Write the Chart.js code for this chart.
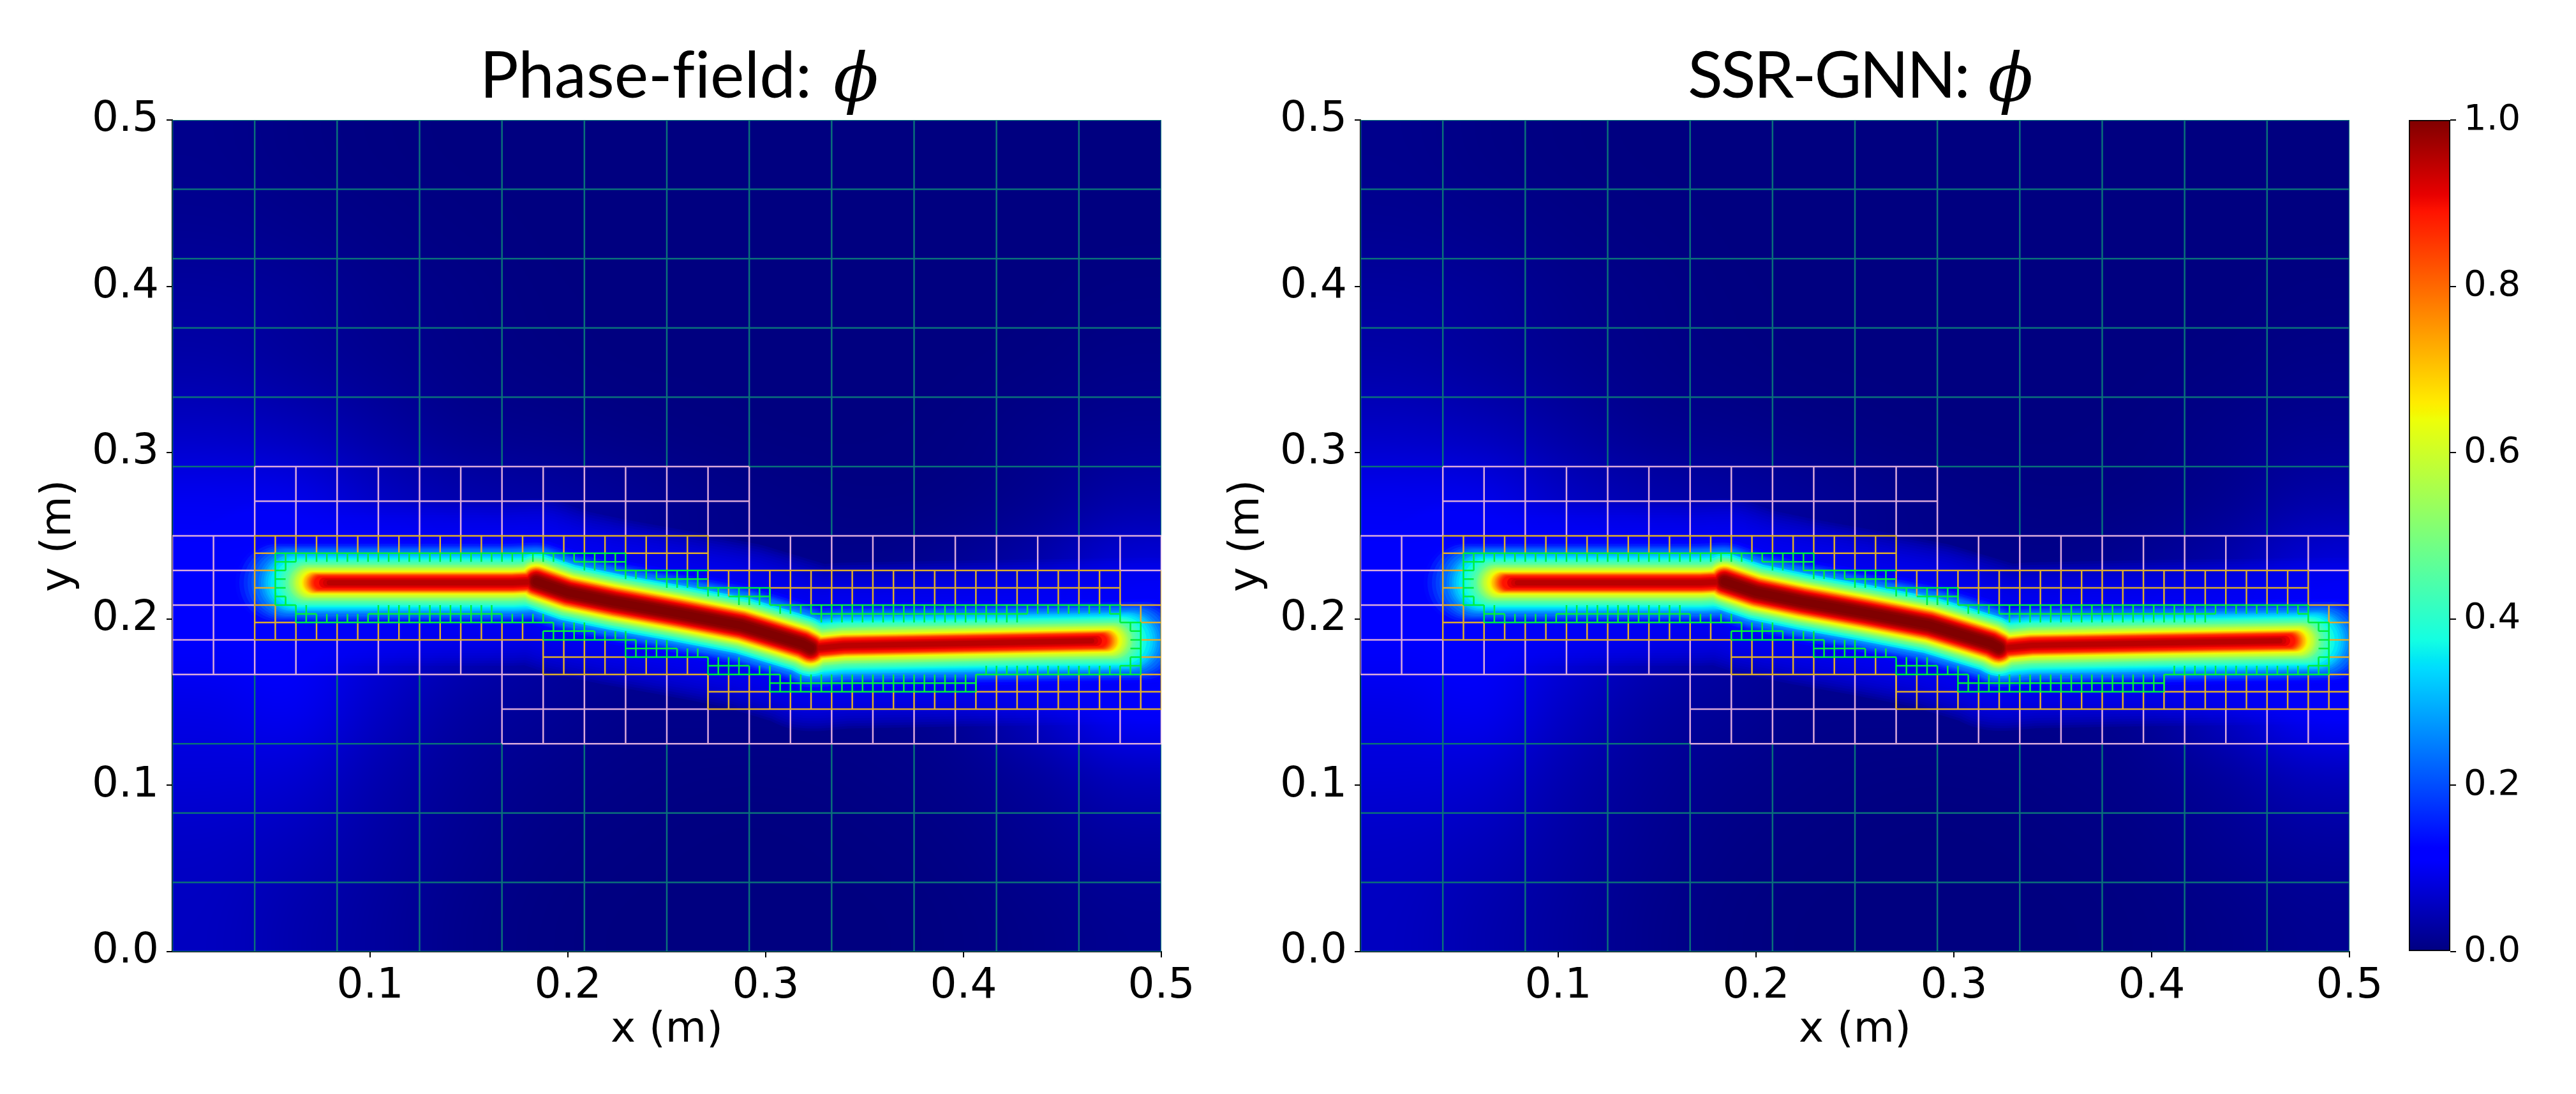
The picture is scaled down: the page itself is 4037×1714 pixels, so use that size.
<!DOCTYPE html>
<html>
<head>
<meta charset="utf-8">
<title>Phase-field vs SSR-GNN</title>
<script src="https://cdn.jsdelivr.net/npm/chart.js@4"></script>
<style>
    html, body { margin: 0; padding: 0; background: #fff; width: 4037px; height: 1714px; overflow: hidden; }
    canvas { position: absolute; top: 0; }
    .panel-title { position: absolute; top: 54px; font-family: Lato, sans-serif; font-size: 101px; line-height: 120px; color: #000; white-space: pre; font-variant-ligatures: none; }
    .panel-title i { font-family: "DejaVu Serif", serif; font-size: 104px; line-height: 100px; position: relative; top: 5px; margin-left: 8px; letter-spacing: 0; }
</style>
</head>
<body>
<div class="panel-title" style="left:752px">Phase-field: <i>&#981;</i></div>
<div class="panel-title" style="left:2645px; letter-spacing:-3px">SSR-GNN: <i>&#981;</i></div>
<canvas id="phaseChart" width="2000" height="1714" style="left:0"></canvas>
<canvas id="gnnChart" width="2000" height="1714" style="left:1862px"></canvas>
<canvas id="colorbar" width="337" height="1714" style="left:3700px"></canvas>
<script>
// Tick labels
const xTickValues = [0.1, 0.2, 0.3, 0.4, 0.5];
const yTickValues = [0.0, 0.1, 0.2, 0.3, 0.4, 0.5];
const colorbarTicks = [0.0, 0.2, 0.4, 0.6, 0.8, 1.0];

// Jet colormap: [value, r, g, b]
const jetStops = [
    [0, 0, 0, 128], [0.11, 0, 0, 255], [0.125, 0, 0, 255], [0.34, 0, 219, 255], [0.35, 0, 230, 247],
    [0.375, 20, 255, 226], [0.64, 238, 255, 8], [0.65, 247, 245, 0], [0.66, 255, 236, 0],
    [0.89, 255, 19, 0], [0.91, 232, 0, 0], [1, 128, 0, 0]
];

// Slow background of phi, coarse cells, top row first
const backgroundPhi = [
    [.010, .005, .002, 0, 0, 0, 0, 0, 0, 0, 0, 0],
    [.015, .010, .005, .002, 0, 0, 0, 0, 0, 0, 0, 0],
    [.025, .020, .010, .005, .001, 0, 0, 0, 0, 0, 0, .002],
    [.035, .025, .015, .007, .003, 0, 0, 0, 0, 0, .002, .006],
    [.060, .050, .030, .015, .010, .005, .002, 0, 0, .002, .008, .015],
    [.100, .095, .060, .040, .030, .020, .010, .005, .003, .005, .015, .035],
    [.110, .125, .080, .050, .030, .020, .010, .010, .010, .020, .040, .080],
    [.110, .125, .080, .050, .030, .020, .020, .020, .020, .030, .050, .090],
    [.090, .100, .060, .030, .020, .010, .010, .010, .010, .020, .060, .110],
    [.075, .070, .040, .020, .010, .005, .003, .003, .005, .010, .025, .050],
    [.060, .050, .030, .015, .005, .002, 0, 0, .002, .005, .015, .025],
    [.055, .040, .025, .010, .003, 0, 0, 0, 0, .003, .008, .015]
];

// Crack centre lines [x, y] in metres
const phaseCrack = [
    [0.080, 0.2218], [0.172, 0.2218], [0.184, 0.2225], [0.200, 0.2160], [0.2232, 0.2103], [0.2555, 0.2034], [0.2877, 0.1961],
    [0.3187, 0.1850], [0.3227, 0.1825], [0.326, 0.1825], [0.3394, 0.1840], [0.4006, 0.1853], [0.4642, 0.1869]
];
const gnnCrack = [
    [0.080, 0.2218], [0.172, 0.2218], [0.184, 0.2225], [0.200, 0.2162], [0.2232, 0.2105], [0.2555, 0.2036], [0.2877, 0.1963],
    [0.3187, 0.1852], [0.3227, 0.1827], [0.326, 0.1827], [0.3394, 0.1842], [0.4006, 0.1855], [0.4642, 0.1869]
];
// Thicker stretch of the crack, kink to kink
const phaseCore = [[0.184, 0.2225], [0.200, 0.2160], [0.2232, 0.2103], [0.2555, 0.2034], [0.2877, 0.1961], [0.3187, 0.1850], [0.3227, 0.1825]];
const gnnCore = [[0.184, 0.2225], [0.200, 0.2162], [0.2232, 0.2105], [0.2555, 0.2036], [0.2877, 0.1963], [0.3187, 0.1852], [0.3227, 0.1827]];

// Contours of phi around the crack
const contourLevels = [
    .11, .13, .15, .17, .19, .21, .23, .25, .27, .29, .31, .33, .35, .37, .39, .41, .43, .45, .47, .49, .51, .53,
    .55, .57, .59, .61, .63, .65, .67, .69, .71, .73, .75, .77, .79, .81, .83, .85, .87, .89, .91, .93, .95, .97, .99, 1.0
];
const contourHalfWidth = [
    66, 63, 61, 58, 56, 54, 52, 49, 47, 45, 44, 42, 40, 38, 36, 35, 33, 31, 29, 28, 27, 25,
    24, 23, 22, 20, 19, 17.5, 17, 16.5, 16, 15, 14.5, 14, 13.5, 13, 12.5, 12, 11, 10, 8, 6, 4, 0, 0, 0
];
const contourTipStretch = [
    90, 86, 82, 78, 74, 70, 67, 64, 62, 60, 58, 56, 54, 50, 47, 44, 42, 40, 38, 37, 36, 35,
    34, 33, 32, 31, 30, 28, 27, 26, 25, 24, 23, 22, 21, 20, 19, 18, 17, 16, 10, 6, 2, 0, 0, 0
];
// Same levels around the thicker stretch
const coreLevels = [.35, .39, .43, .47, .51, .55, .59, .63, .65, .69, .73, .77, .81, .85, .89, .91, .93, .95, .97, .99, 1.0];
const coreHalfWidth = [44, 41, 38, 36, 33, 31, 29, 27, 25, 24, 22.5, 21, 20, 18.5, 17, 15.5, 14, 12.5, 11, 9, 6];
const haloHalfWidth = [130, 126, 122, 118, 114, 110, 106, 102, 98, 94, 90, 86, 82, 78, 74, 70];

// Mesh, in units of 1/192 m. Lines along x are [y, x0, x1], lines along y are [y0, y1, [x...]]
const meshUnit = 192;
const tealAlongX = [
    [0, 0, 96], [8, 0, 96], [16, 0, 96], [24, 0, 32], [56, 0, 8], [56, 56, 96],
    [64, 0, 96], [72, 0, 96], [80, 0, 96], [88, 0, 96], [96, 0, 96]
];
const tealAlongY = [
    [0, 96, [0, 96]],
    [0, 32, [8, 16, 24]],
    [0, 24, [32, 40, 48, 56, 64, 72, 80, 88]],
    [56, 96, [8, 16, 24, 32, 40, 48, 56]],
    [48, 96, [64, 72, 80, 88]]
];
const pinkAlongX = [
    [56, 8, 56], [52, 8, 56], [48, 0, 8], [48, 52, 96], [44, 0, 8], [44, 92, 96], [40, 0, 8], [36, 0, 8],
    [32, 0, 36], [28, 32, 52], [24, 32, 96]
];
const pinkAlongY = [
    [48, 56, [8, 12, 16, 20, 24, 28, 32, 36, 40, 44, 48, 52, 56]],
    [44, 48, [56, 60, 64, 68, 72, 76, 80, 84, 88, 92, 96]],
    [32, 36, [8, 12, 16, 20, 24, 28, 32]],
    [32, 48, [0, 4]],
    [24, 32, [32, 36, 40, 44, 48, 52]],
    [24, 28, [56, 60, 64, 68, 72, 76, 80, 84, 88, 92, 96]]
];
const orangeAlongX = [
    [48, 8, 52], [46, 8, 10], [46, 44, 52], [44, 8, 10], [44, 52, 92], [42, 8, 10], [42, 58, 92], [40, 8, 10],
    [40, 92, 96], [38, 8, 12], [38, 94, 96], [36, 8, 36], [36, 94, 96], [34, 36, 44], [34, 94, 96], [32, 36, 52],
    [32, 94, 96], [30, 52, 58], [30, 78, 96], [28, 52, 96]
];
const orangeAlongY = [
    [46, 48, [10, 12, 14, 16, 18, 20, 22, 24, 26, 28, 30, 32, 34, 36, 38, 40, 42, 44]],
    [44, 48, [46, 48, 50, 52]],
    [36, 48, [8]],
    [36, 40, [10]],
    [36, 38, [12, 14, 16, 18, 20, 22, 24, 26, 28, 30, 32, 34]],
    [32, 36, [36, 38, 40, 42]],
    [32, 34, [44, 46, 48, 50]],
    [28, 32, [52, 54, 56, 78, 80, 82, 84, 86, 88, 90, 92, 94]],
    [28, 30, [58, 60, 62, 64, 66, 68, 70, 72, 74, 76]],
    [40, 44, [56, 58, 60, 62, 64, 66, 68, 70, 72, 74, 76, 78, 80, 82, 84, 86, 88, 90, 92]],
    [41, 44, [54]],
    [42, 44, [52]],
    [38, 40, [94]],
    [28, 44, [96]]
];
const greenAlongX = [
    [46, 10, 44], [45, 10, 12], [45, 39, 44], [44, 10, 11], [44, 43, 52], [43, 10, 11], [43, 47, 52], [42, 10, 11],
    [42, 51, 58], [41, 10, 11], [41, 54, 58], [40, 10, 12], [40, 58, 92], [39, 12, 14], [39, 19, 32], [39, 62, 83],
    [39, 91, 92], [38, 12, 37], [38, 92, 94], [37, 36, 41], [37, 93, 94], [36, 36, 45], [36, 93, 94], [35, 44, 49],
    [35, 93, 94], [34, 44, 52], [34, 93, 94], [33, 52, 56], [33, 92, 94], [32, 52, 59], [32, 78, 94], [31, 58, 78],
    [30, 58, 78]
];
const greenAlongY = [
    [40, 46, [10]],
    [44, 46, [11, 40, 41, 42, 43]],
    [40, 41, [11, 56]],
    [45, 46, [12, 13, 14, 15, 16, 17, 18, 19, 20, 21, 22, 23, 24, 25, 26, 27, 28, 29, 30, 31, 32, 33, 34, 35, 36, 37, 38, 39]],
    [43, 46, [44]],
    [43, 44, [45, 46, 47]],
    [42, 44, [48, 49, 50, 51]],
    [41, 42, [52, 53]],
    [40, 42, [55, 57, 58]],
    [39, 40, [59, 60, 61, 62, 83, 84, 85, 86, 87, 88, 89, 90, 91]],
    [38, 40, [12, 13, 20, 21, 22, 23, 24, 25, 26, 27, 28, 29, 30, 31, 63, 64, 65, 66, 67, 68, 69, 70, 71, 72, 73, 74, 75, 76, 77, 78, 79, 80, 81, 82, 92]],
    [38, 39, [14, 15, 16, 17, 18, 19, 32, 33, 34, 35, 36]],
    [36, 38, [37, 38, 39, 40]],
    [36, 37, [36, 41, 42, 43]],
    [34, 37, [44]],
    [34, 36, [45, 46, 47, 48]],
    [34, 35, [49, 50, 51]],
    [32, 34, [52, 53, 54, 55, 93]],
    [32, 33, [56, 57, 79, 80, 81, 82, 83, 84, 85, 86, 87, 88, 89, 90, 91, 92]],
    [30, 33, [58]],
    [30, 32, [59, 60, 61, 62, 63, 64, 65, 66, 67, 68, 69, 70, 71, 72, 73, 74, 75, 76, 77, 78]],
    [37, 38, [93]],
    [32, 38, [94]]
];

// Size of a pixel in metres along x (plot is 1550 px wide for 0.5 m)
const metresPerPixelX = 0.5 / 1550;

// Look up a jet colour for a value
function jetColor(value) {
    for (let i = 1; i < jetStops.length; i++) {
        if (value <= jetStops[i][0]) {
            const a = jetStops[i - 1], b = jetStops[i];
            const t = (value - a[0]) / (b[0] - a[0]);
            return [1, 2, 3].map(k => Math.round(a[k] + (b[k] - a[k]) * t));
        }
    }
    return jetStops[jetStops.length - 1].slice(1);
}

// Turn the segment lists into one broken line
function meshPoints(alongX, alongY) {
    const points = [];
    const gap = { x: NaN, y: NaN };
    alongX.forEach(([y, x0, x1]) => {
        points.push({ x: x0 / meshUnit, y: y / meshUnit }, { x: x1 / meshUnit, y: y / meshUnit }, gap);
    });
    alongY.forEach(([y0, y1, xs]) => {
        xs.forEach(x => {
            points.push({ x: x / meshUnit, y: y0 / meshUnit }, { x: x / meshUnit, y: y1 / meshUnit }, gap);
        });
    });
    return points;
}

function bandDataset(path, color, halfWidth, stretchPx, order) {
    const last = path.length - 1;
    const data = path.map(([x, y], i) => {
        let px = x;
        if (i === 0) px = x - stretchPx * metresPerPixelX;
        if (i === last) px = x + stretchPx * metresPerPixelX;
        return { x: px, y: y };
    });
    return {
        data: data,
        showLine: true,
        pointRadius: 0,
        borderColor: color,
        borderWidth: halfWidth * 2,
        borderCapStyle: 'round',
        borderJoinStyle: 'round',
        order: order
    };
}

function meshDataset(points, color, order) {
    return { data: points, showLine: true, pointRadius: 0, borderColor: color, borderWidth: 2.5, order: order };
}

function buildDatasets(crack, core) {
    const datasets = [];
    let order = 1000;
    haloHalfWidth.forEach(w => {
        datasets.push(bandDataset(crack, 'rgba(0,0,255,0.13)', w, 95, order--));
    });
    // Lowest level first so that higher values stay on top
    contourLevels.forEach((level, i) => {
        const c = jetColor(level);
        const color = `rgb(${c[0]},${c[1]},${c[2]})`;
        if (contourHalfWidth[i] > 0) {
            datasets.push(bandDataset(crack, color, contourHalfWidth[i], contourTipStretch[i], order--));
        }
        const coreIndex = coreLevels.indexOf(level);
        if (coreIndex >= 0) {
            datasets.push(bandDataset(core, color, coreHalfWidth[coreIndex], 0, order--));
        }
    });
    datasets.push(meshDataset(meshPoints(tealAlongX, tealAlongY), 'rgb(10,112,122)', 4));
    datasets.push(meshDataset(meshPoints(pinkAlongX, pinkAlongY), 'rgb(218,170,218)', 3));
    datasets.push(meshDataset(meshPoints(orangeAlongX, orangeAlongY), 'rgb(222,172,45)', 2));
    datasets.push(meshDataset(meshPoints(greenAlongX, greenAlongY), 'rgb(0,240,60)', 1));
    return datasets;
}

// Paints the slow background through the chart's scales
const backgroundFieldPlugin = {
    id: 'backgroundField',
    beforeDatasetsDraw(chart) {
        const rows = backgroundPhi.length, cols = backgroundPhi[0].length;
        const small = document.createElement('canvas');
        small.width = cols;
        small.height = rows;
        const smallCtx = small.getContext('2d');
        const image = smallCtx.createImageData(cols, rows);
        backgroundPhi.forEach((row, r) => row.forEach((value, c) => {
            const rgb = jetColor(value);
            image.data.set([rgb[0], rgb[1], rgb[2], 255], (r * cols + c) * 4);
        }));
        smallCtx.putImageData(image, 0, 0);

        const x0 = chart.scales.x.getPixelForValue(0), x1 = chart.scales.x.getPixelForValue(0.5);
        const y0 = chart.scales.y.getPixelForValue(0.5), y1 = chart.scales.y.getPixelForValue(0);
        const ctx = chart.ctx;
        ctx.save();
        ctx.imageSmoothingEnabled = true;
        ctx.imageSmoothingQuality = 'high';
        ctx.drawImage(small, x0, y0, x1 - x0, y1 - y0);
        ctx.restore();
    }
};

function makePanel(canvasId, crack, core) {
    new Chart(document.getElementById(canvasId), {
        type: 'scatter',
        data: { datasets: buildDatasets(crack, core) },
        plugins: [backgroundFieldPlugin],
        options: {
            responsive: false,
            animation: false,
            layout: { padding: { top: 188, right: 180, left: 0, bottom: 0 } },
            plugins: { legend: { display: false }, tooltip: { enabled: false } },
            scales: {
                x: {
                    type: 'linear',
                    min: 0,
                    max: 0.5,
                    afterBuildTicks: scale => { scale.ticks = xTickValues.map(value => ({ value })); },
                    afterFit: scale => { scale.height = 223; },
                    ticks: {
                        color: '#000',
                        padding: 6,
                        maxRotation: 0,
                        autoSkip: false,
                        font: { family: 'DejaVu Sans', size: 66 },
                        callback: value => value.toFixed(1)
                    },
                    grid: { drawOnChartArea: false, color: '#000', tickLength: 9, lineWidth: 2 },
                    border: { display: true, color: '#000', width: 2 },
                    title: {
                        display: true,
                        text: 'x (m)',
                        color: '#000',
                        font: { family: 'DejaVu Sans', size: 66 },
                        padding: { top: 0, bottom: 60 }
                    }
                },
                y: {
                    type: 'linear',
                    min: 0,
                    max: 0.5,
                    afterBuildTicks: scale => { scale.ticks = yTickValues.map(value => ({ value })); },
                    afterFit: scale => { scale.width = 270; },
                    ticks: {
                        color: '#000',
                        padding: 12,
                        autoSkip: false,
                        font: { family: 'DejaVu Sans', size: 66 },
                        callback: value => value.toFixed(1)
                    },
                    grid: { drawOnChartArea: false, color: '#000', tickLength: 9, lineWidth: 2 },
                    border: { display: true, color: '#000', width: 2 },
                    title: {
                        display: true,
                        text: 'y (m)',
                        color: '#000',
                        font: { family: 'DejaVu Sans', size: 66 },
                        padding: { top: 53, bottom: 0 }
                    }
                }
            }
        }
    });
}

function makeColorbar() {
    new Chart(document.getElementById('colorbar'), {
        type: 'bar',
        data: {
            labels: ['phi'],
            datasets: [{
                data: [[0, 1]],
                barPercentage: 1,
                categoryPercentage: 1,
                borderColor: '#000',
                borderWidth: 2,
                borderSkipped: false,
                backgroundColor: context => {
                    const chart = context.chart;
                    if (!chart.chartArea) return '#000';
                    const yScale = chart.scales.y;
                    const gradient = chart.ctx.createLinearGradient(0, yScale.getPixelForValue(0), 0, yScale.getPixelForValue(1));
                    jetStops.forEach(([value, r, g, b]) => gradient.addColorStop(value, `rgb(${r},${g},${b})`));
                    return gradient;
                }
            }]
        },
        options: {
            responsive: false,
            animation: false,
            layout: { padding: { top: 188, left: 75, right: 0, bottom: 223 } },
            plugins: { legend: { display: false }, tooltip: { enabled: false } },
            scales: {
                x: { display: false },
                y: {
                    position: 'right',
                    min: 0,
                    max: 1,
                    afterBuildTicks: scale => { scale.ticks = colorbarTicks.map(value => ({ value })); },
                    afterFit: scale => { scale.width = 197; },
                    ticks: {
                        color: '#000',
                        padding: 12,
                        autoSkip: false,
                        font: { family: 'DejaVu Sans', size: 56 },
                        callback: value => value.toFixed(1)
                    },
                    grid: { drawOnChartArea: false, color: '#000', tickLength: 9, lineWidth: 2 },
                    border: { display: false }
                }
            }
        }
    });
}

makePanel('phaseChart', phaseCrack, phaseCore);
makePanel('gnnChart', gnnCrack, gnnCore);
makeColorbar();
</script>
</body>
</html>
